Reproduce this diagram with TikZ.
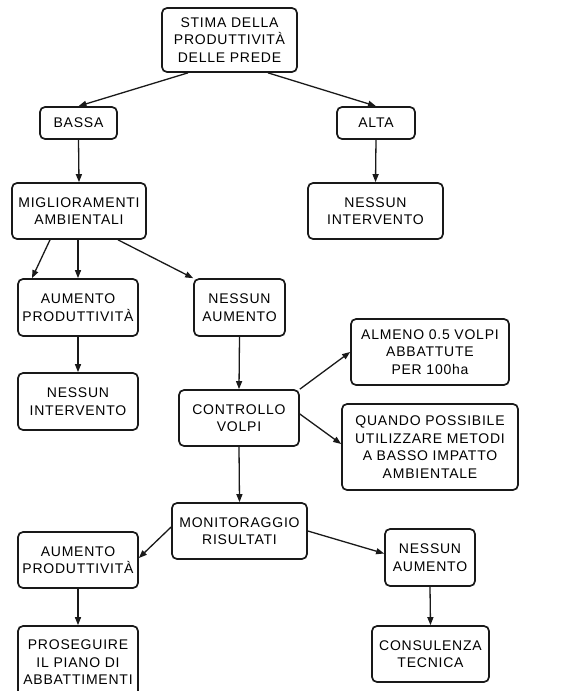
\documentclass[tikz,border=0pt]{standalone}
\usepackage{fontspec}
\setmainfont{Liberation Sans}[LetterSpace=5.5]
\usetikzlibrary{arrows.meta}
\begin{document}
\begin{tikzpicture}[x=1pt,y=-1pt,
  box/.style={draw=black!90, line width=1.7pt, rounded corners=5pt, align=center, inner sep=0pt,
    font=\fontsize{14}{17.5}\selectfont, text=black},
  arr/.style={draw=black!90, line width=1.3pt, -{Triangle[length=8pt,width=6pt]}}]
\useasboundingbox (0,0) rectangle (588,691);
\node[box, minimum width=135pt, minimum height=64pt] (stima) at (229.5,40) {STIMA DELLA\\PRODUTTIVITÀ\\DELLE PREDE};
\node[box, minimum width=77pt, minimum height=32pt] (bassa) at (78.5,123) {BASSA};
\node[box, minimum width=78pt, minimum height=32pt] (alta) at (376,123) {ALTA};
\node[box, minimum width=134pt, minimum height=56pt] (migl) at (79,211) {MIGLIORAMENTI\\AMBIENTALI};
\node[box, minimum width=135pt, minimum height=56pt] (nint1) at (375.5,211) {NESSUN\\INTERVENTO};
\node[box, minimum width=120pt, minimum height=57pt] (aum1) at (78,307.5) {AUMENTO\\PRODUTTIVITÀ};
\node[box, minimum width=91pt, minimum height=57pt] (naum1) at (239.5,307.5) {NESSUN\\AUMENTO};
\node[box, minimum width=120pt, minimum height=57pt] (nint2) at (78,401.5) {NESSUN\\INTERVENTO};
\node[box, minimum width=120pt, minimum height=56pt] (contr) at (239,418) {CONTROLLO\\VOLPI};
\node[box, minimum width=158pt, minimum height=66pt] (almeno) at (430,352) {ALMENO 0.5 VOLPI\\ABBATTUTE\\PER 100ha};
\node[box, minimum width=176pt, minimum height=86pt] (quando) at (430,447) {QUANDO POSSIBILE\\UTILIZZARE METODI\\A BASSO IMPATTO\\AMBIENTALE};
\node[box, minimum width=135pt, minimum height=56pt] (monit) at (239.5,531) {MONITORAGGIO\\RISULTATI};
\node[box, minimum width=120pt, minimum height=56pt] (aum2) at (78,560) {AUMENTO\\PRODUTTIVITÀ};
\node[box, minimum width=90pt, minimum height=57pt] (naum2) at (430,557.5) {NESSUN\\AUMENTO};
\node[box, minimum width=120pt, minimum height=73pt] (prosegui) at (78,662.5) {PROSEGUIRE\\IL PIANO DI\\ABBATTIMENTI};
\node[box, minimum width=117pt, minimum height=56pt] (consul) at (430.5,654) {CONSULENZA\\TECNICA};
\draw[arr] ([xshift=-41.5pt]stima.south) -- (bassa.north);
\draw[arr] ([xshift=38.5pt]stima.south) -- (alta.north);
\draw[arr] (bassa.south) -- (migl.north);
\draw[arr] (alta.south) -- (nint1.north);
\draw[arr] ([xshift=-29pt]migl.south) -- ([xshift=-46pt]aum1.north);
\draw[arr] ([xshift=-1pt]migl.south) -- (aum1.north);
\draw[arr] ([xshift=39pt]migl.south) -- (naum1.north west);
\draw[arr] (aum1.south) -- (nint2.north);
\draw[arr] (naum1.south) -- (contr.north);
\draw[arr] (contr.north east) -- (almeno.west);
\draw[arr] ([yshift=4pt]contr.east) -- ([yshift=3pt]quando.west);
\draw[arr] (contr.south) -- (monit.north);
\draw[arr] ([yshift=4pt]monit.west) -- ([yshift=2pt]aum2.east);
\draw[arr] (monit.east) -- ([yshift=4pt]naum2.west);
\draw[arr] (aum2.south) -- (prosegui.north);
\draw[arr] (naum2.south) -- (consul.north);
\end{tikzpicture}
\end{document}
